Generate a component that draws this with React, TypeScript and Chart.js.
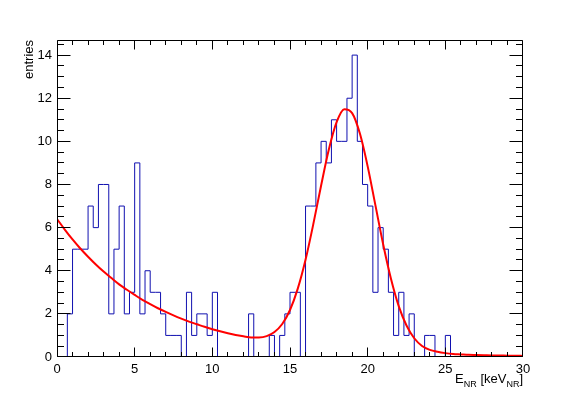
import { useEffect, useRef } from 'react';
import { Chart, registerables } from 'chart.js';

Chart.register(...registerables);

// Histogram: 90 bins of 1/3 keV between 0 and 30 keV
const histLow = 0;
const histHigh = 30;
const binCounts = [
  0, 0, 2, 5, 5, 5, 7, 6, 8, 8,
  2, 5, 7, 2, 3, 9, 2, 4, 3, 3,
  2, 1, 1, 1, 0, 3, 1, 2, 2, 1,
  3, 0, 0, 0, 0, 0, 0, 2, 0, 0,
  0, 1, 0, 1, 2, 3, 3, 0, 7, 7,
  9, 10, 9, 11, 10, 10, 12, 14, 10, 8,
  7, 3, 6, 5, 3, 1, 3, 1, 2, 0,
  0, 1, 1, 0, 0, 1, 0, 0, 0, 0,
  0, 0, 0, 0, 0, 0, 0, 0, 0, 0,
];

// Fit curve (keV, entries)
const fitX = [
  0, 0.5, 1, 1.5, 2, 2.5, 3, 3.5, 4, 4.5,
  5, 5.5, 6, 6.5, 7, 7.5, 8, 8.5, 9, 9.5,
  10, 10.5, 11, 11.5, 12, 12.5, 13, 13.5, 14, 14.5,
  15, 15.5, 16, 16.5, 17, 17.5, 18, 18.5, 19, 19.5,
  20, 20.5, 21, 21.5, 22, 22.5, 23, 23.5, 24, 24.5,
  25, 25.5, 26, 26.5, 27, 27.5, 28, 28.5, 29, 29.5, 30,
];
const fitY = [
  6.40, 5.91, 5.45, 5.03, 4.65, 4.29, 3.96, 3.66, 3.37, 3.12,
  2.88, 2.65, 2.45, 2.26, 2.09, 1.93, 1.78, 1.64, 1.52, 1.40,
  1.29, 1.19, 1.10, 1.02, 0.96, 0.91, 0.91, 0.97, 1.16, 1.53,
  2.18, 3.17, 4.51, 6.16, 7.94, 9.62, 10.89, 11.49, 11.31, 10.36,
  8.84, 7.03, 5.22, 3.63, 2.36, 1.46, 0.87, 0.51, 0.33, 0.24,
  0.18, 0.14, 0.12, 0.10, 0.09, 0.08, 0.07, 0.07, 0.06, 0.06, 0.05,
];

const yMax = 14.7;
const xMajorTicks = [0, 5, 10, 15, 20, 25, 30];
const xMinorTicks = [
  0, 1, 2, 3, 4, 5, 6, 7, 8, 9, 10, 11, 12, 13, 14, 15,
  16, 17, 18, 19, 20, 21, 22, 23, 24, 25, 26, 27, 28, 29, 30,
];
const yMajorTicks = [0, 2, 4, 6, 8, 10, 12, 14];
const yMinorTicks = [
  0, 0.5, 1, 1.5, 2, 2.5, 3, 3.5, 4, 4.5, 5, 5.5, 6, 6.5, 7, 7.5,
  8, 8.5, 9, 9.5, 10, 10.5, 11, 11.5, 12, 12.5, 13, 13.5, 14, 14.5,
];
const yTitle = 'entries';
const xTitleParts = [
  { text: 'E', sub: false },
  { text: 'NR', sub: true },
  { text: ' [keV', sub: false },
  { text: 'NR', sub: true },
  { text: ']', sub: false },
];

const FONT = "'Liberation Sans', Arial, Helvetica, sans-serif";

const rootFrame = {
  id: 'rootFrame',
  beforeDraw(chart: any) {
    const { ctx, width, height } = chart;
    ctx.save();
    ctx.fillStyle = '#ffffff';
    ctx.fillRect(0, 0, width, height);
    ctx.restore();
  },
  afterDatasetsDraw(chart: any) {
    const { ctx, chartArea: a, scales } = chart;
    const xs = scales.x;
    const ys = scales.y;
    const L = a.left + 0.5;
    const R = a.right - 0.5;
    const T = a.top + 0.5;
    const B = a.bottom - 0.5;
    ctx.save();
    ctx.strokeStyle = '#000000';
    ctx.lineWidth = 1;
    ctx.beginPath();
    ctx.rect(L, T, R - L, B - T);
    for (const v of xMinorTicks) {
      const len = xMajorTicks.includes(v) ? 9 : 4.5;
      let px = Math.floor(xs.getPixelForValue(v)) + 0.5;
      px = Math.min(Math.max(px, L), R);
      ctx.moveTo(px, B);
      ctx.lineTo(px, B - len);
      ctx.moveTo(px, T);
      ctx.lineTo(px, T + len);
    }
    for (const v of yMinorTicks) {
      const len = yMajorTicks.includes(v) ? 13 : 6.5;
      let py = Math.floor(ys.getPixelForValue(v)) + 0.5;
      py = Math.min(Math.max(py, T), B);
      ctx.moveTo(L, py);
      ctx.lineTo(L + len, py);
      ctx.moveTo(R, py);
      ctx.lineTo(R - len, py);
    }
    ctx.stroke();

    // axis titles
    ctx.fillStyle = '#000000';
    ctx.save();
    ctx.font = `13px ${FONT}`;
    ctx.translate(29, a.top);
    ctx.rotate(-Math.PI / 2);
    ctx.textAlign = 'right';
    ctx.textBaseline = 'middle';
    ctx.fillText(yTitle, 0, 0);
    ctx.restore();

    const mainFont = `13px ${FONT}`;
    const subFont = `9px ${FONT}`;
    let total = 0;
    const widths = xTitleParts.map((p) => {
      ctx.font = p.sub ? subFont : mainFont;
      const w = ctx.measureText(p.text).width;
      total += w;
      return w;
    });
    let x = a.right - total;
    const baseY = 383;
    ctx.textAlign = 'left';
    ctx.textBaseline = 'alphabetic';
    xTitleParts.forEach((p, i) => {
      ctx.font = p.sub ? subFont : mainFont;
      ctx.fillText(p.text, x, p.sub ? baseY + 4 : baseY);
      x += widths[i];
    });
    ctx.restore();
  },
};

export default function App() {
  const canvasRef = useRef<HTMLCanvasElement | null>(null);

  useEffect(() => {
    const canvas = canvasRef.current;
    if (!canvas) return;
    const binWidth = (histHigh - histLow) / binCounts.length;
    const histPoints = binCounts.map((c, k) => ({ x: histLow + k * binWidth, y: c }));
    histPoints.push({ x: histHigh, y: binCounts[binCounts.length - 1] });
    const fitPoints = fitX.map((x, i) => ({ x, y: fitY[i] }));

    const chart = new Chart(canvas, {
      type: 'line',
      data: {
        datasets: [
          {
            label: 'fit',
            data: fitPoints,
            borderColor: '#ff0000',
            borderWidth: 2,
            pointRadius: 0,
            cubicInterpolationMode: 'monotone',
            fill: false,
            order: 0,
          },
          {
            label: 'histogram',
            data: histPoints,
            borderColor: '#1010b0',
            borderWidth: 1,
            pointRadius: 0,
            stepped: true,
            fill: false,
            order: 1,
          },
        ],
      },
      options: {
        animation: false,
        responsive: false,
        maintainAspectRatio: false,
        devicePixelRatio: 1,
        layout: { padding: { top: 40, right: 58, bottom: 0, left: 0 } },
        plugins: {
          legend: { display: false },
          tooltip: { enabled: false },
          title: { display: false },
        },
        scales: {
          x: {
            type: 'linear',
            min: histLow,
            max: histHigh,
            afterBuildTicks: (s: any) => {
              s.ticks = xMajorTicks.map((v) => ({ value: v }));
            },
            afterFit: (s: any) => {
              s.height = 39;
            },
            grid: { display: false, drawTicks: false },
            border: { display: false },
            ticks: {
              autoSkip: false,
              maxRotation: 0,
              minRotation: 0,
              padding: 5,
              color: '#000000',
              font: { family: FONT, size: 13 },
              callback: (v: any) => String(v),
            },
          },
          y: {
            type: 'linear',
            min: 0,
            max: yMax,
            afterBuildTicks: (s: any) => {
              s.ticks = yMajorTicks.map((v) => ({ value: v }));
            },
            afterFit: (s: any) => {
              s.width = 57;
            },
            grid: { display: false, drawTicks: false },
            border: { display: false },
            ticks: {
              autoSkip: false,
              padding: 5,
              color: '#000000',
              font: { family: FONT, size: 13 },
              callback: (v: any) => String(v),
            },
          },
        },
      },
      plugins: [rootFrame],
    });
    return () => chart.destroy();
  }, []);

  return (
    <div style={{ position: 'fixed', left: 0, top: 0, width: 581, height: 396, background: '#fff' }}>
      <canvas ref={canvasRef} width={581} height={396} style={{ display: 'block', width: 581, height: 396 }} />
    </div>
  );
}
